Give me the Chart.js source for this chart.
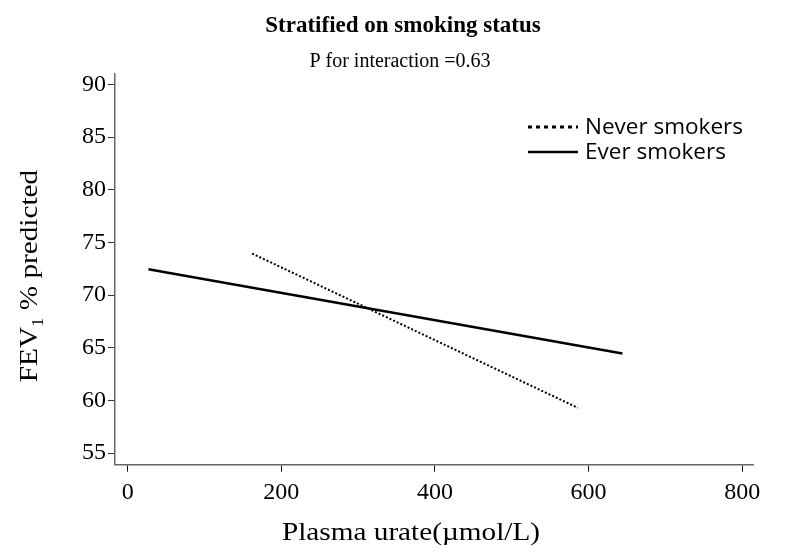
<!DOCTYPE html>
<html>
<head>
<meta charset="utf-8">
<script src="https://cdn.jsdelivr.net/npm/chart.js@4"></script>
<style>
    html, body { margin: 0; padding: 0; background: #fff; }
    #wrap { width: 786px; height: 552px; }
</style>
</head>
<body>
<div id="wrap"><canvas id="chart" width="786" height="552"></canvas></div>
<script>
// 横纵轴刻度
const xTicks = [0, 200, 400, 600, 800];
const yTicks = [55, 60, 65, 70, 75, 80, 85, 90];

// 两条回归线的端点
const neverX = [162, 586];
const neverY = [73.95, 59.3];
const everX = [27, 644];
const everY = [72.45, 64.45];

const seriesNames = ['Never smokers', 'Ever smokers'];

const SERIF = '"Liberation Serif", "Times New Roman", serif';
const SANS = '"Open Sans", "Noto Sans", sans-serif';

function toPoints(xs, ys) {
    return xs.map((x, i) => ({ x, y: ys[i] }));
}

const textPlugin = {
    id: 'textPlugin',
    afterDraw(chart) {
        const ctx = chart.ctx;
        ctx.save();
        ctx.fillStyle = '#000';
        ctx.textBaseline = 'alphabetic';

        // 标题
        ctx.textAlign = 'center';
        ctx.font = 'bold 23px ' + SERIF;
        ctx.fillText('Stratified on smoking status', 403, 32);
        ctx.font = '20px ' + SERIF;
        ctx.fillText('P for interaction =0.63', 400, 67);

        // x 轴标题（原图字形略宽，横向拉伸一点）
        ctx.save();
        ctx.translate(411, 540);
        ctx.scale(1.17, 1);
        ctx.font = '25px ' + SERIF;
        ctx.fillText('Plasma urate(\u00b5mol/L)', 0, 0);
        ctx.restore();

        // y 轴标题，FEV 后带下标 1
        ctx.translate(37, 276);
        ctx.rotate(-Math.PI / 2);
        ctx.scale(1.17, 1);
        ctx.textAlign = 'left';
        const parts = [
            { t: 'FEV', size: 25, dy: 0 },
            { t: '1', size: 16, dy: 6 },
            { t: ' % predicted', size: 25, dy: 0 }
        ];
        let total = 0;
        parts.forEach(p => {
            ctx.font = p.size + 'px ' + SERIF;
            p.w = ctx.measureText(p.t).width;
            total += p.w;
        });
        let cx = -total / 2;
        parts.forEach(p => {
            ctx.font = p.size + 'px ' + SERIF;
            ctx.fillText(p.t, cx, p.dy);
            cx += p.w;
        });
        ctx.restore();

        // 图例
        ctx.save();
        const rows = [
            { y: 127, dash: [4, 4], width: 3, base: 134 },
            { y: 152, dash: [], width: 2.5, base: 159 }
        ];
        rows.forEach((r, i) => {
            ctx.strokeStyle = '#000';
            ctx.lineWidth = r.width;
            ctx.setLineDash(r.dash);
            ctx.beginPath();
            ctx.moveTo(528, r.y);
            ctx.lineTo(578, r.y);
            ctx.stroke();
            ctx.setLineDash([]);
            ctx.fillStyle = '#000';
            ctx.font = '22.5px ' + SANS;
            ctx.textAlign = 'left';
            ctx.fillText(seriesNames[i], 585, r.base);
        });
        ctx.restore();
    }
};

const tickFont = { family: SERIF, size: 24 };

new Chart(document.getElementById('chart').getContext('2d'), {
    type: 'scatter',
    data: {
        datasets: [
            {
                label: seriesNames[0],
                data: toPoints(neverX, neverY),
                showLine: true,
                borderColor: '#000',
                borderWidth: 2,
                borderDash: [2, 2],
                pointRadius: 0,
                fill: false
            },
            {
                label: seriesNames[1],
                data: toPoints(everX, everY),
                showLine: true,
                borderColor: '#000',
                borderWidth: 2.5,
                pointRadius: 0,
                fill: false
            }
        ]
    },
    options: {
        responsive: false,
        animation: false,
        layout: { padding: { left: 0, right: 33, top: 74, bottom: 0 } },
        plugins: {
            legend: { display: false },
            tooltip: { enabled: false }
        },
        scales: {
            x: {
                type: 'linear',
                min: -16.5,
                max: 814,
                afterBuildTicks: s => { s.ticks = xTicks.map(v => ({ value: v })); },
                afterFit: s => { s.height = 87.3; },
                grid: { drawOnChartArea: false, drawTicks: true, tickLength: 7, tickColor: '#111', tickWidth: 1 },
                border: { color: '#666', width: 1.5 },
                ticks: { font: tickFont, color: '#000', padding: 7, maxRotation: 0, autoSkip: false }
            },
            y: {
                type: 'linear',
                min: 53.9,
                max: 91,
                afterBuildTicks: s => { s.ticks = yTicks.map(v => ({ value: v })); },
                afterFit: s => { s.width = 115; },
                grid: { drawOnChartArea: false, drawTicks: true, tickLength: 7, tickColor: '#333', tickWidth: 1 },
                border: { color: '#666', width: 1.5 },
                ticks: { font: tickFont, color: '#000', padding: 2, autoSkip: false }
            }
        }
    },
    plugins: [textPlugin]
});
</script>
</body>
</html>
